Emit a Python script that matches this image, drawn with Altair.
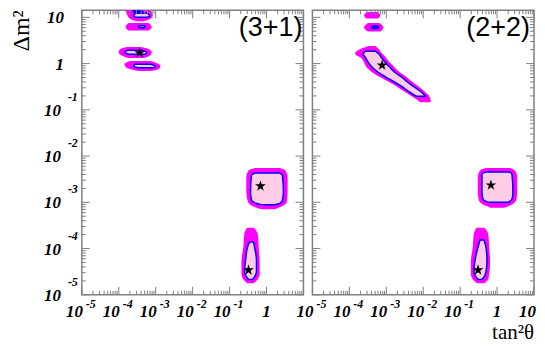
import altair as alt
import pandas as pd

# ---------------- data (rows: dm2, tan2 low, tan2 high) ----------------
left_top_outer = [(21, 1.36e-4, 5.0e-4), (15.6, 1.54e-4, 5.32e-4), (12.8, 1.75e-4, 7.25e-4),
                  (11.0, 1.86e-4, 7.7e-4), (9.5, 2.24e-4, 6.4e-4), (8.8, 3.05e-4, 4.42e-4)]
left_top_blue = [(21, 2.1e-4, 4.7e-4), (14.2, 2.38e-4, 4.42e-4), (12.8, 2.53e-4, 4.42e-4)]
left_top_inner = [(12.2, 2.87e-4, 6.02e-4), (11.0, 2.53e-4, 6.8e-4), (10.0, 2.87e-4, 6.02e-4)]
left_b_outer = [(7.06, 1.86e-4, 6.4e-4), (6.2, 1.64e-4, 7.25e-4), (5.51, 1.86e-4, 6.4e-4)]
left_b_inner = [(6.55, 3.45e-4, 5.0e-4), (5.93, 3.45e-4, 5.0e-4)]
left_c_outer = [(2.14, 1.64e-4, 3.9e-4), (1.94, 1.13e-4, 6.4e-4), (1.76, 1.06e-4, 7.25e-4),
                (1.59, 1.2e-4, 6.8e-4), (1.41, 1.75e-4, 4.7e-4)]
left_c_inner = [(1.94, 1.75e-4, 4.15e-4), (1.76, 1.45e-4, 5.66e-4), (1.59, 1.86e-4, 5.32e-4)]
left_d_outer = [(1.07, 2.1e-4, 7.25e-4), (0.966, 1.54e-4, 1.04e-3), (0.874, 1.64e-4, 1.25e-3),
                (0.79, 2.24e-4, 1.1e-3), (0.736, 3.45e-4, 7.25e-4)]
left_d_inner = [(0.966, 2.69e-4, 7.25e-4), (0.874, 2.53e-4, 9.9e-4), (0.81, 3.24e-4, 8.7e-4)]
left_e_outer = [(5.2e-3, 0.503, 2.24), (4.7e-3, 0.347, 3.05), (3.5e-3, 0.306, 3.45),
                (1.66e-3, 0.306, 3.45), (1.0e-3, 0.347, 3.24), (8.3e-4, 0.503, 2.24),
                (7.5e-4, 0.729, 1.64)]
left_e_inner = [(4.3e-3, 0.503, 2.24), (3.9e-3, 0.393, 2.69), (1.66e-3, 0.369, 2.87),
                (1.12e-3, 0.393, 2.69), (9.6e-4, 0.503, 2.38), (8.9e-4, 0.729, 1.64)]
left_f_outer = [(2.64e-4, 0.306, 0.445), (2.06e-4, 0.271, 0.535), (1.08e-4, 0.255, 0.569),
                (5.1e-5, 0.226, 0.606), (2.8e-5, 0.226, 0.606), (2.2e-5, 0.255, 0.535),
                (1.9e-5, 0.306, 0.445)]
left_f_inner = [(1.39e-4, 0.347, 0.445), (1.08e-4, 0.306, 0.473), (5.65e-5, 0.271, 0.535),
                (3.1e-5, 0.255, 0.535), (2.43e-5, 0.288, 0.473), (2.14e-5, 0.326, 0.418)]
left_stars = [(3.67e-4, 1.7), (0.686, 2.24e-3), (0.326, 3.43e-5)]

right_a_outer = [(12.2, 3.05e-4, 5.66e-4), (11.0, 2.69e-4, 6.4e-4), (10.0, 3.05e-4, 5.66e-4)]
right_b_outer = [(7.06, 3.24e-4, 6.4e-4), (6.08, 2.69e-4, 7.7e-4), (5.24, 3.24e-4, 6.8e-4)]
right_b_blue = [(6.55, 4.15e-4, 6.02e-4), (6.08, 3.9e-4, 6.4e-4), (5.65, 4.15e-4, 6.02e-4)]
right_c_outer = [(2.25, 3.24e-4, 5.0e-4), (1.94, 1.98e-4, 6.02e-4), (1.67, 1.54e-4, 6.8e-4),
                 (1.37, 2.24e-4, 8.7e-4), (1.07, 2.69e-4, 1.1e-3), (0.832, 3.24e-4, 1.51e-3),
                 (0.65, 4.7e-4, 2.05e-3), (0.506, 8.2e-4, 3.16e-3), (0.395, 1.42e-3, 4.58e-3),
                 (0.308, 2.32e-3, 7.05e-3), (0.24, 3.8e-3, 1.02e-2), (0.187, 6.23e-3, 1.39e-2),
                 (0.155, 8.49e-3, 1.48e-2)]
right_c_inner = [(1.85, 2.69e-4, 5.0e-4), (1.59, 2.38e-4, 6.4e-4), (1.37, 2.69e-4, 7.25e-4),
                 (1.07, 3.24e-4, 9.3e-4), (0.832, 4.15e-4, 1.25e-3), (0.65, 6.02e-4, 1.7e-3),
                 (0.506, 9.9e-4, 2.63e-3), (0.395, 1.7e-3, 3.8e-3), (0.308, 2.79e-3, 5.86e-3),
                 (0.24, 4.3e-3, 9.03e-3), (0.196, 6.63e-3, 1.16e-2)]
right_d_outer = [(5.2e-3, 0.5, 2.24), (4.7e-3, 0.367, 2.87), (3.5e-3, 0.324, 3.24),
                 (1.66e-3, 0.324, 3.24), (1.12e-3, 0.345, 3.05), (9.1e-4, 0.47, 2.24),
                 (8.1e-4, 0.68, 1.54)]
right_d_inner = [(4.5e-3, 0.5, 2.1), (4.1e-3, 0.39, 2.53), (1.66e-3, 0.39, 2.69),
                 (1.17e-3, 0.415, 2.53), (1.0e-3, 0.566, 1.98)]
right_e_outer = [(2.64e-4, 0.287, 0.442), (2.06e-4, 0.253, 0.532), (1.08e-4, 0.238, 0.566),
                 (5.1e-5, 0.21, 0.602), (2.8e-5, 0.21, 0.566), (2.2e-5, 0.238, 0.532),
                 (1.9e-5, 0.287, 0.442)]
right_e_inner = [(1.53e-4, 0.345, 0.442), (1.08e-4, 0.305, 0.5), (5.65e-5, 0.253, 0.532),
                 (3.1e-5, 0.238, 0.5), (2.43e-5, 0.269, 0.442), (2.14e-5, 0.305, 0.39)]
right_stars = [(7.7e-4, 0.92), (0.68, 2.35e-3), (0.305, 3.43e-5)]

x_major = [1e-5, 1e-4, 1e-3, 1e-2, 1e-1, 1, 10]
y_major = [1e-5, 1e-4, 1e-3, 1e-2, 1e-1, 1, 10]
x_exp_ticks = [1e-5, 1e-4, 1e-3, 1e-2, 1e-1]
x_exp_text = ["-5", "-4", "-3", "-2", "-1"]
y_exp_ticks = [1e-1, 1e-2, 1e-3, 1e-4, 1e-5]
y_exp_text = ["-1", "-2", "-3", "-4", "-5"]

# ---------------- styling ----------------
W, H = 222, 285
LEFT_EXT = 73          # room for the y labels and title
BOTTOM_EXT = 44        # room below the plot for labels and the x title
RIGHT_EXT = 2
XLAB_Y = H + 22
XMIN, XMAX = 1e-5, 10
YMIN, YMAX = 1e-5, 14.2
MAG, BLUE, PINK = "#ff00ff", "#0000ff", "#ffcce6"
AX = "#808080"
SERIF = "Liberation Serif"

xs = alt.Scale(type="log", domain=[XMIN, XMAX], nice=False)
ys = alt.Scale(type="log", domain=[YMIN, YMAX], nice=False)

x_minor = [m * 10.0 ** e for e in range(-5, 1) for m in range(2, 10)]
y_minor = [m * 10.0 ** e for e in range(-5, 1) for m in range(2, 10)]
one = pd.DataFrame({"k": [0]})


def rows_df(blobs):
    recs = []
    for name, rows in blobs.items():
        for dm2, lo, hi in rows:
            recs.append({"blob": name, "dm2": dm2, "lo": lo, "hi": hi})
    return pd.DataFrame(recs)


def area(blobs, fill, stroke, sw):
    return alt.Chart(rows_df(blobs)).mark_area(
        orient="horizontal", fill=fill, stroke=stroke, strokeWidth=sw, strokeJoin="round",
        clip=True, interpolate="monotone", opacity=1).encode(
        y=alt.Y("dm2:Q", scale=ys, axis=None),
        x=alt.X("lo:Q", scale=xs, axis=None, stack=None),
        x2="hi:Q",
        detail="blob:N",
    )


def stars(pts):
    df = pd.DataFrame(pts, columns=["tan2", "dm2"])
    star = ("M0,-1L0.2245,-0.309L0.951,-0.309L0.363,0.118L0.588,0.809L0,0.382"
            "L-0.588,0.809L-0.363,0.118L-0.951,-0.309L-0.2245,-0.309Z")
    return alt.Chart(df).mark_point(shape=star, filled=True, color="black", size=130,
                                    opacity=1).encode(
        x=alt.X("tan2:Q", scale=xs, axis=None), y=alt.Y("dm2:Q", scale=ys, axis=None))


def xticks(vals, ln):
    df = pd.DataFrame({"v": vals})
    bot = alt.Chart(df).mark_rule(color=AX, strokeWidth=1).encode(
        x=alt.X("v:Q", scale=xs, axis=None), y=alt.value(H), y2=alt.value(H - ln))
    top = alt.Chart(df).mark_rule(color=AX, strokeWidth=1).encode(
        x=alt.X("v:Q", scale=xs, axis=None), y=alt.value(0), y2=alt.value(ln))
    return [bot, top]


def yticks(vals, ln):
    df = pd.DataFrame({"v": vals})
    lft = alt.Chart(df).mark_rule(color=AX, strokeWidth=1).encode(
        y=alt.Y("v:Q", scale=ys, axis=None), x=alt.value(0), x2=alt.value(ln))
    rgt = alt.Chart(df).mark_rule(color=AX, strokeWidth=1).encode(
        y=alt.Y("v:Q", scale=ys, axis=None), x=alt.value(W), x2=alt.value(W - ln))
    return [lft, rgt]


LAB = dict(font=SERIF, fontStyle="italic", fontWeight="bold", color="black")


def xlabels(plain_center, plain_right):
    d1 = pd.DataFrame({"v": x_exp_ticks, "b": ["10"] * len(x_exp_ticks), "e": x_exp_text})
    base = alt.Chart(d1).mark_text(align="right", baseline="alphabetic", dx=1, fontSize=17,
                                   **LAB).encode(
        x=alt.X("v:Q", scale=xs, axis=None), y=alt.value(XLAB_Y), text="b:N")
    exp = alt.Chart(d1).mark_text(align="left", baseline="alphabetic", dx=4, fontSize=12,
                                  **LAB).encode(
        x=alt.X("v:Q", scale=xs, axis=None), y=alt.value(XLAB_Y - 9), text="e:N")
    out = [base, exp]
    if plain_center:
        d2 = pd.DataFrame({"v": plain_center, "t": ["1"] * len(plain_center)})
        out.append(alt.Chart(d2).mark_text(align="center", baseline="alphabetic",
                                           fontSize=17, **LAB).encode(
            x=alt.X("v:Q", scale=xs, axis=None), y=alt.value(XLAB_Y), text="t:N"))
    if plain_right:
        d3 = pd.DataFrame({"v": plain_right, "t": ["10"] * len(plain_right)})
        out.append(alt.Chart(d3).mark_text(align="right", baseline="alphabetic", dx=2,
                                           fontSize=17, **LAB).encode(
            x=alt.X("v:Q", scale=xs, axis=None), y=alt.value(XLAB_Y), text="t:N"))
    return out


def ylabels():
    d1 = pd.DataFrame({"v": y_exp_ticks, "b": ["10"] * len(y_exp_ticks), "e": y_exp_text})
    base = alt.Chart(d1).mark_text(align="right", baseline="alphabetic", dy=6, fontSize=17,
                                   **LAB).encode(
        y=alt.Y("v:Q", scale=ys, axis=None), x=alt.value(-21), text="b:N")
    exp = alt.Chart(d1).mark_text(align="left", baseline="alphabetic", dy=-9, fontSize=12,
                                  **LAB).encode(
        y=alt.Y("v:Q", scale=ys, axis=None), x=alt.value(-14), text="e:N")
    d2 = pd.DataFrame({"v": [10, 1], "t": ["10", "1"]})
    pl = alt.Chart(d2).mark_text(align="right", baseline="alphabetic", dy=6, fontSize=17,
                                 **LAB).encode(
        y=alt.Y("v:Q", scale=ys, axis=None), x=alt.value(-18), text="t:N")
    return [base, exp, pl]


def text1(txt, x, y, **kw):
    df = pd.DataFrame({"t": [txt]})
    return alt.Chart(df).mark_text(color="black", baseline="alphabetic", **kw).encode(
        text="t:N", x=alt.value(x), y=alt.value(y))


def frame_box(x0, x1):
    # invisible box that fixes the space reserved around each panel
    return alt.Chart(one).mark_rect(opacity=0).encode(
        x=alt.value(x0), x2=alt.value(x1), y=alt.value(0), y2=alt.value(H + BOTTOM_EXT))


ticks = xticks(x_major, 8) + xticks(x_minor, 4) + yticks(y_major, 8) + yticks(y_minor, 4)

left = alt.layer(
    frame_box(-LEFT_EXT, W),
    area({"a": left_top_outer, "b": left_b_outer, "c": left_c_outer, "d": left_d_outer,
          "e": left_e_outer, "f": left_f_outer}, MAG, MAG, 2.5),
    area({"a": left_top_blue}, BLUE, BLUE, 1),
    area({"a": left_top_inner, "b": left_b_inner, "c": left_c_inner, "d": left_d_inner,
          "e": left_e_inner, "f": left_f_inner}, PINK, BLUE, 1.5),
    stars(left_stars),
    *ticks,
    *xlabels([1], []),
    *ylabels(),
    text1("(3+1)", W - 1, 26, font="Liberation Sans", fontSize=27, align="right"),
    text1("Δm²", -53, 0, font=SERIF, fontSize=24, align="right", angle=270),
).properties(width=W, height=H)

right = alt.layer(
    frame_box(0, W + RIGHT_EXT),
    area({"a": right_a_outer, "b": right_b_outer, "c": right_c_outer, "d": right_d_outer,
          "e": right_e_outer}, MAG, MAG, 2.5),
    area({"b": right_b_blue}, BLUE, BLUE, 1),
    area({"c": right_c_inner, "d": right_d_inner, "e": right_e_inner}, PINK, BLUE, 1.5),
    stars(right_stars),
    *ticks,
    *xlabels([1], [10]),
    text1("(2+2)", W - 4, 26, font="Liberation Sans", fontSize=27, align="right"),
    text1("tan²θ", W, H + 44.5, font=SERIF, fontSize=21, align="right"),
).properties(width=W, height=H)

chart = alt.hconcat(left, right, spacing=9, bounds="flush", padding=0).configure_view(
    stroke=AX, strokeWidth=1.5)

chart.save("out.html", embed_options={"renderer": "svg", "actions": False})
